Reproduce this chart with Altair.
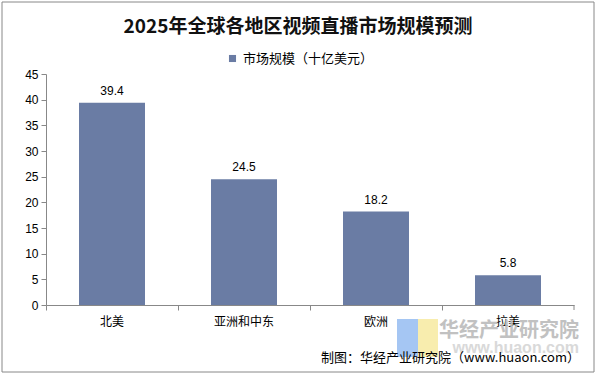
import altair as alt
import pandas as pd

regions = ["北美", "亚洲和中东", "欧洲", "拉美"]
values = [39.4, 24.5, 18.2, 5.8]
series_name = "市场规模（十亿美元）"
y_ticks = [0, 5, 10, 15, 20, 25, 30, 35, 40, 45]

df = pd.DataFrame({"region": regions, "value": values, "series": [series_name] * len(regions)})
one = pd.DataFrame({"k": [0]})

W, H = 528, 231
FONT = "Liberation Sans"
CJK = "Noto Sans CJK SC"

base = alt.Chart(df)
deco = alt.Chart(one)

x_enc = alt.X("region:N", sort=regions, title=None,
              scale=alt.Scale(paddingInner=0, paddingOuter=0),
              axis=alt.Axis(labelAngle=0, labelFont=CJK, labelFontSize=12, labelColor="#000",
                            domainColor="#888", tickColor="#888", tickSize=5, bandPosition=0,
                            labelPadding=6))
y_enc = alt.Y("value:Q", title=None,
              scale=alt.Scale(domain=[0, 45], nice=False),
              axis=alt.Axis(values=y_ticks, grid=False, labelFont=FONT, labelFontSize=12,
                            labelColor="#000", domainColor="#888", tickColor="#888",
                            tickSize=5, labelPadding=3))

bars = base.mark_bar(color="#6A7CA4", width=alt.RelativeBandSize(0.5)).encode(
    x=x_enc,
    y=y_enc,
    color=alt.Color("series:N", scale=alt.Scale(range=["#6A7CA4"]), title=None,
                    legend=alt.Legend(orient="none", legendX=180, legendY=-22,
                                      symbolType="square", symbolSize=50,
                                      labelFont=CJK, labelFontSize=13, labelColor="#000")),
)

labels = base.mark_text(dy=-12, font=FONT, fontSize=12, color="#000").encode(
    x=x_enc,
    y=y_enc,
    text=alt.Text("value:Q", format=".1f"),
)

end_tick = deco.mark_rule(color="#888").encode(
    x=alt.value(W), y=alt.value(H), y2=alt.value(H + 5)
)

border = deco.mark_rect(fill=None, stroke="#888", strokeWidth=1).encode(
    x=alt.value(-44), x2=alt.value(W + 20), y=alt.value(-72), y2=alt.value(H + 67)
)

title = deco.mark_text(font=CJK, fontSize=19, fontWeight="bold", color="#111").encode(
    x=alt.value(252), y=alt.value(-47), text=alt.value("2025年全球各地区视频直播市场规模预测")
)

logo_blue = deco.mark_rect(fill="#8FB8F0", opacity=0.8).encode(
    x=alt.value(351), x2=alt.value(372), y=alt.value(H + 14), y2=alt.value(H + 52)
)
logo_yellow = deco.mark_rect(fill="#F6E89A", opacity=0.8).encode(
    x=alt.value(372), x2=alt.value(392), y=alt.value(H + 14), y2=alt.value(H + 52)
)
wm1 = deco.mark_text(font=CJK, fontSize=20, fontWeight="bold", color="#BBBBBB", align="right", opacity=0.9).encode(
    x=alt.value(W + 5), y=alt.value(H + 26), text=alt.value("华经产业研究院")
)
wm2 = deco.mark_text(font=FONT, fontSize=16, fontWeight="bold", color="#D0D0D0", align="right", opacity=0.8).encode(
    x=alt.value(W + 5), y=alt.value(H + 43), text=alt.value("www.huaon.com")
)
source = deco.mark_text(font=CJK, fontSize=13, color="#000", align="right").encode(
    x=alt.value(W + 6), y=alt.value(H + 53), text=alt.value("制图：华经产业研究院（www.huaon.com）")
)

chart = alt.layer(logo_blue, logo_yellow, wm1, wm2, border, title, bars, labels, end_tick, source).properties(
    width=W, height=H,
    padding={"left": 46, "top": 74, "right": 22, "bottom": 70},
    autosize=alt.AutoSizeParams(type="none"),
    background="white",
).configure_view(stroke=None)

chart.save("out.html", embed_options={"renderer": "svg", "actions": False})
